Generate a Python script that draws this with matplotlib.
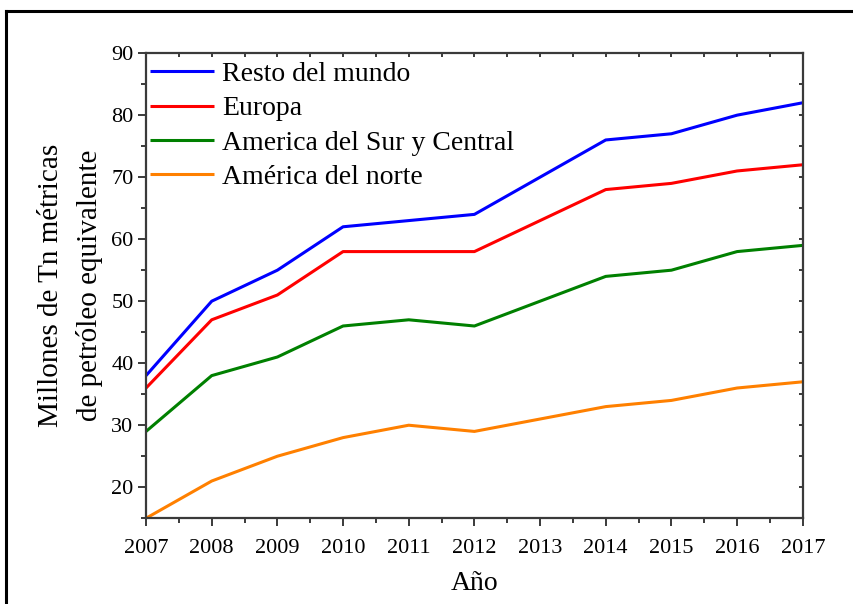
import numpy as np
import matplotlib.pyplot as plt
from matplotlib.lines import Line2D
from matplotlib.ticker import MultipleLocator

plt.rcParams['font.family'] = ['Liberation Serif', 'DejaVu Serif']

years = [2007, 2008, 2009, 2010, 2011, 2012, 2013, 2014, 2015, 2016, 2017]
resto_mundo = [38, 50, 55, 62, 63, 64, 70, 76, 77, 80, 82]
europa = [36, 47, 51, 58, 58, 58, 63, 68, 69, 71, 72]
america_sur = [29, 38, 41, 46, 47, 46, 50, 54, 55, 58, 59]
america_norte = [15, 21, 25, 28, 30, 29, 31, 33, 34, 36, 37]

series = [
    ('Resto del mundo', resto_mundo, '#0000ff'),
    ('Europa', europa, '#ff0000'),
    ('America del Sur y Central', america_sur, '#008000'),
    ('América del norte', america_norte, '#ff8000'),
]

fig = plt.figure(figsize=(8.54, 6.04), dpi=100)
ax = fig.add_axes([0.171, 0.142, 0.769, 0.770])

for name, vals, col in series:
    ax.plot(years, vals, color=col, lw=2.2, label=name, solid_capstyle='butt')

ax.set_xlim(2007, 2017)
ax.set_ylim(15, 90)
ax.set_xticks(years)
ax.xaxis.set_minor_locator(MultipleLocator(0.5))
ax.yaxis.set_major_locator(MultipleLocator(10))
ax.yaxis.set_minor_locator(MultipleLocator(5))

spine_col = '#3a3a3a'
for s in ax.spines.values():
    s.set_color(spine_col)
    s.set_linewidth(1.6)

ax.tick_params(which='both', direction='out', color=spine_col, width=1.4,
               labelsize=16, top=False, right=False, pad=3)
ax.tick_params(axis='x', which='major', pad=9)
ax.tick_params(which='major', length=6)
ax.tick_params(which='minor', length=3.5)

# inward ticks on top and right
sec_x = ax.secondary_xaxis('top')
sec_x.set_xticks(years)
sec_x.xaxis.set_minor_locator(MultipleLocator(0.5))
sec_x.tick_params(which='both', direction='in', color=spine_col, width=1.4,
                  labeltop=False, length=3)
sec_x.spines['top'].set_visible(False)
sec_y = ax.secondary_yaxis('right')
sec_y.yaxis.set_major_locator(MultipleLocator(10))
sec_y.yaxis.set_minor_locator(MultipleLocator(5))
sec_y.tick_params(which='both', direction='in', color=spine_col, width=1.4,
                  labelright=False, length=3)
sec_y.spines['right'].set_visible(False)

ax.set_xlabel('Año', fontsize=20, labelpad=9)
ax.set_ylabel('Millones de Tn métricas\nde petróleo equivalente', fontsize=21,
              labelpad=6, linespacing=1.55)

ax.legend(loc='upper left', bbox_to_anchor=(-0.007, 1.0), frameon=False,
          fontsize=20, handlelength=2.3, handletextpad=0.3, labelspacing=0.32,
          borderaxespad=0.1, borderpad=0.2)

# page frame (left and top edges)
fig.add_artist(Line2D([0.007, 0.007], [0.0, 0.981], color='black', lw=2.2,
                      transform=fig.transFigure))
fig.add_artist(Line2D([0.007, 1.0], [0.981, 0.981], color='black', lw=2.2,
                      transform=fig.transFigure))

fig.savefig('out.png', dpi=100)
